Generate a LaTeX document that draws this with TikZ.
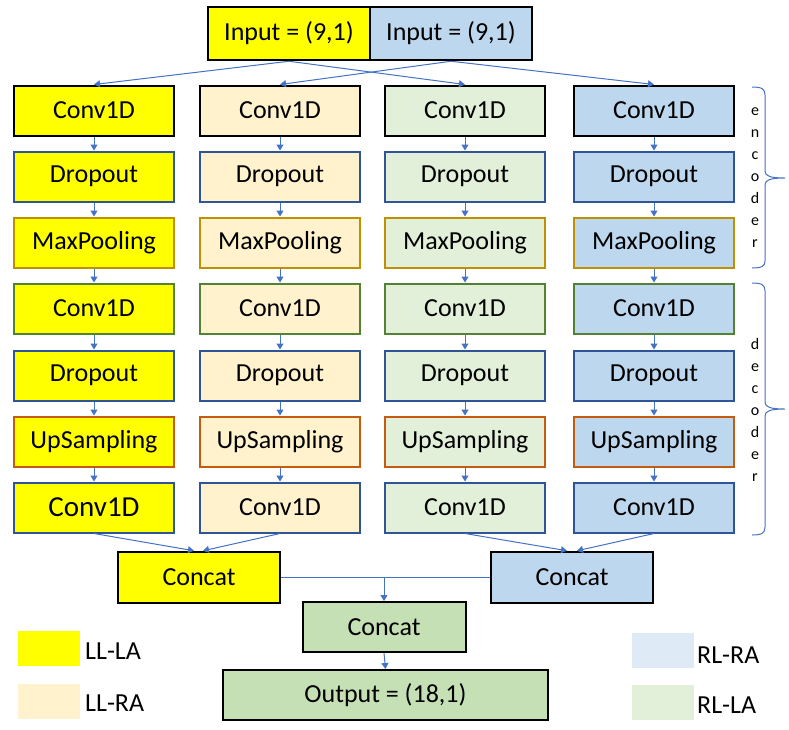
\documentclass[tikz,border=0pt]{standalone}
\usepackage{fontspec}
\setmainfont{Carlito}
\usetikzlibrary{arrows.meta,calc}
\definecolor{cyel}{HTML}{FFFF00}
\definecolor{cllra}{HTML}{FFF2CC}
\definecolor{crlla}{HTML}{E2F0D9}
\definecolor{crlra}{HTML}{BDD7EE}
\definecolor{clegrlra}{HTML}{DEEBF7}
\definecolor{cgreen}{HTML}{C5E0B4}
\definecolor{carrow}{HTML}{4472C4}
\definecolor{bdblue}{HTML}{2F5597}
\definecolor{bdgold}{HTML}{BF9000}
\definecolor{bdgreen}{HTML}{548235}
\definecolor{bdbrown}{HTML}{C55A11}
\begin{document}
\begin{tikzpicture}[x=1pt,y=-1pt,
  box/.style={draw, line width=2pt, minimum width=160pt, minimum height=50pt, inner sep=0pt, font=\fontsize{26}{30}\selectfont},
  big-1-7/.style={font=\fontsize{29}{33}\selectfont},
  blackbox/.style={box, draw=black, line width=2.5pt},
  arr/.style={draw=carrow, line width=1pt, -{Triangle[width=7pt,length=6pt]}},
  legsq/.style={minimum width=62pt, minimum height=35pt, inner sep=0pt},
  legtxt/.style={anchor=west, inner sep=0pt, font=\fontsize{26}{30}\selectfont},
  brace/.style={draw=carrow, line width=1pt},
  bracetxt/.style={align=center, inner sep=0pt, font=\fontsize{16}{22}\selectfont}
]
\useasboundingbox (0,0) rectangle (789,729);

% input
\node[blackbox, fill=cyel, minimum width=162pt, minimum height=53pt] (inY) at (289,33.5) {Input = (9,1)};
\node[blackbox, fill=crlra, minimum width=162pt, minimum height=53pt] (inB) at (451,33.5) {Input = (9,1)};

% columns
\foreach \c/\x/\fc in {1/94/cyel, 2/280/cllra, 3/465/crlla, 4/654/crlra}{
  \foreach \r/\y/\bd/\txt in {1/110.5/black/Conv1D, 2/176.5/bdblue/Dropout, 3/242.5/bdgold/MaxPooling, 4/308.5/bdgreen/Conv1D, 5/375.5/bdblue/Dropout, 6/441.5/bdbrown/UpSampling, 7/507.5/bdblue/Conv1D}{
    \node[box, fill=\fc, draw=\bd, big-\c-\r/.try] (n-\c-\r) at (\x,\y) {\txt};
  }
  \foreach \r in {1,...,6}{
    \pgfmathtruncatemacro{\nr}{\r+1}
    \draw[arr] (n-\c-\r.south) -- (n-\c-\nr.north);
  }
}

% input arrows
\draw[arr] (inY.south) -- (n-1-1.north);
\draw[arr] (inY.south) -- (n-3-1.north);
\draw[arr] (inB.south) -- (n-2-1.north);
\draw[arr] (inB.south) -- (n-4-1.north);

% concat
\node[blackbox, fill=cyel, minimum width=162pt, minimum height=51pt] (cl) at (199,577.5) {Concat};
\node[blackbox, fill=crlra, minimum width=162pt, minimum height=51pt] (cr) at (572,577.5) {Concat};
\node[blackbox, fill=cgreen, minimum width=163pt, minimum height=50pt, line width=2pt] (cm) at (384,627) {Concat};
\node[blackbox, fill=cgreen, minimum width=325pt, minimum height=50pt, line width=2pt] (out) at (385.5,695) {Output = (18,1)};

\draw[arr] (n-1-7.south) -- ([xshift=-5pt]cl.north);
\draw[arr] (n-2-7.south) -- ([xshift=4pt]cl.north);
\draw[arr] (n-3-7.south) -- ([xshift=-5pt]cr.north);
\draw[arr] (n-4-7.south) -- ([xshift=5pt]cr.north);
\draw[draw=carrow, line width=1pt] (cl.east) -- (cr.west);
\draw[arr] (cl.east -| cm.north) -- (cm.north);
\draw[arr] (cm.south) -- (out.north);

% legend
\node[legsq, fill=cyel] (lg1) at (49,648.5) {};
\node[legtxt] (lt1) at (85,651) {LL-LA};
\node[legsq, fill=cllra] (lg2) at (49,701.5) {};
\node[legtxt] (lt2) at (85,703) {LL-RA};
\node[legsq, fill=clegrlra] (lg3) at (663,650) {};
\node[legtxt] (lt3) at (697,655) {RL-RA};
\node[legsq, fill=crlla] (lg4) at (663,702) {};
\node[legtxt] (lt4) at (697,705) {RL-LA};

% braces
\draw[brace] (752,87) .. controls (762,87) and (765,89) .. (765,95) -- (765,171)
  .. controls (765,176) and (770,178) .. (785,178)
  .. controls (770,178) and (765,180) .. (765,185) -- (765,261)
  .. controls (765,266) and (762,268) .. (752,268);
\draw[brace] (752,283) .. controls (762,283) and (765,285) .. (765,291) -- (765,402)
  .. controls (765,407) and (770,409) .. (785,409)
  .. controls (770,409) and (765,411) .. (765,416) -- (765,527)
  .. controls (765,533) and (762,535) .. (752,535);
\node[bracetxt] (enc) at (755,178) {e\\n\\c\\o\\d\\e\\r};
\node[bracetxt] (dec) at (755,410) {d\\e\\c\\o\\d\\e\\r};
\end{tikzpicture}
\end{document}
